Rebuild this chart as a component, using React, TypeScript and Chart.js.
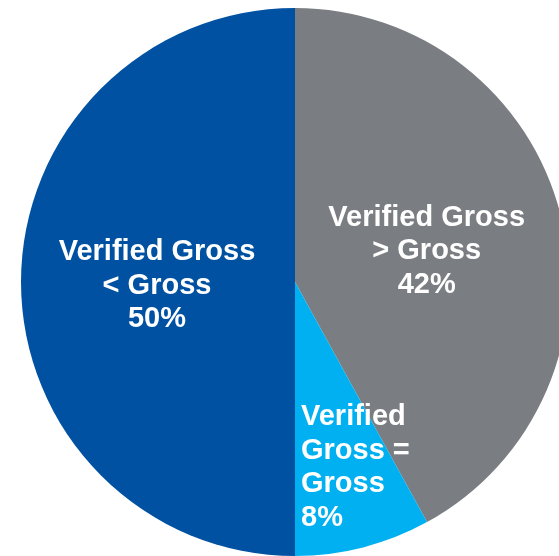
import React, { useEffect, useRef } from "react";
import { Chart, registerables } from "chart.js";

Chart.register(...registerables);

const categories = ["Verified Gross > Gross", "Verified Gross = Gross", "Verified Gross < Gross"];
const values = [42, 8, 50];
const labelLines = [
  ["Verified Gross", "> Gross", "42%"],
  ["Verified", "Gross =", "Gross", "8%"],
  ["Verified Gross", "< Gross", "50%"],
];
const colors = ["rgb(122,126,130)", "rgb(0,176,240)", "rgb(0,81,161)"];

const labelPlugin = {
  id: "sliceLabels",
  afterDatasetsDraw(chart: any) {
    const ctx = chart.ctx;
    const meta = chart.getDatasetMeta(0);
    ctx.save();
    ctx.fillStyle = "#ffffff";
    ctx.font = "bold 29px 'Liberation Sans', Arial, sans-serif";
    ctx.textBaseline = "alphabetic";
    const lh = 33.5;
    meta.data.forEach((arc: any, i: number) => {
      const { x, y, startAngle, endAngle, outerRadius } = arc.getProps(
        ["x", "y", "startAngle", "endAngle", "outerRadius"],
        true
      );
      const mid = (startAngle + endAngle) / 2;
      const lines = labelLines[i];
      if (i === 1) {
        const ry = y + Math.sin(mid) * outerRadius * 0.685;
        const n = lines.length;
        const top = ry - (n * lh) / 2;
        ctx.textAlign = "left";
        lines.forEach((t: string, k: number) => {
          ctx.fillText(t, x + 6, top + (k + 1) * lh - 5);
        });
      } else {
        const rx = x + Math.cos(mid) * outerRadius * 0.5;
        const ry = y + Math.sin(mid) * outerRadius * 0.5;
        const n = lines.length;
        ctx.textAlign = "center";
        lines.forEach((t: string, k: number) => {
          const by = ry + (k - (n - 1) / 2) * lh + 11.5;
          ctx.fillText(t, rx - 1, by);
        });
      }
    });
    ctx.restore();
  },
};

export default function App() {
  const ref = useRef<HTMLCanvasElement>(null);
  useEffect(() => {
    if (!ref.current) return;
    const chart = new Chart(ref.current, {
      type: "pie",
      data: {
        labels: categories,
        datasets: [
          {
            data: values,
            backgroundColor: colors,
            borderWidth: 0,
            radius: 274,
          } as any,
        ],
      },
      options: {
        responsive: false,
        animation: false,
        events: [],
        layout: { padding: 0 },
        plugins: {
          legend: { display: false },
          tooltip: { enabled: false },
        },
      },
      plugins: [labelPlugin],
    });
    return () => chart.destroy();
  }, []);
  return (
    <div
      style={{
        position: "fixed",
        left: 0,
        top: 0,
        width: 559,
        height: 556,
        overflow: "hidden",
        background: "#fff",
      }}
    >
      <canvas
        ref={ref}
        width={600}
        height={600}
        style={{ position: "absolute", left: -5, top: -18, width: 600, height: 600 }}
      />
    </div>
  );
}
